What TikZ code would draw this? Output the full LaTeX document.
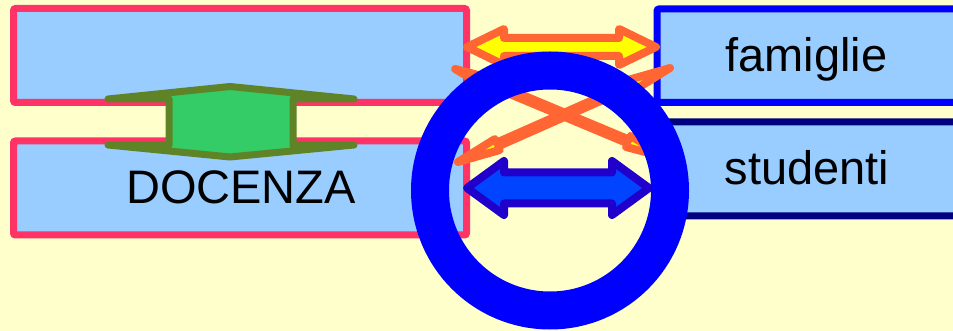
\documentclass[tikz,border=0pt]{standalone}
\usepackage{fontspec}
\setmainfont{Liberation Sans}
\definecolor{bgc}{HTML}{FFFFCC}
\definecolor{boxfill}{HTML}{99CCFF}
\definecolor{pinkc}{HTML}{FF3366}
\definecolor{bluec}{HTML}{0000FF}
\definecolor{navyc}{HTML}{000080}
\definecolor{orangec}{HTML}{FF6633}
\definecolor{yellowc}{HTML}{FFFF00}
\definecolor{arrblue}{HTML}{0044FF}
\definecolor{arrblueline}{HTML}{2200CC}
\definecolor{greenfill}{HTML}{33CC66}
\definecolor{greenline}{HTML}{5E8427}
\newcommand{\hdarrow}[4]{(-#1,0) -- (-#1+#2,#3) -- (-#1+#2,#4) -- (#1-#2,#4) -- (#1-#2,#3) -- (#1,0) -- (#1-#2,-#3) -- (#1-#2,-#4) -- (-#1+#2,-#4) -- (-#1+#2,-#3) -- cycle}
\tikzset{
  leftbox/.style={draw=pinkc, fill=boxfill, line width=7pt, rounded corners=2pt},
  rightbox/.style={fill=boxfill, line width=7pt, rounded corners=2pt},
  orangearrow/.style={draw=orangec, fill=yellowc, line width=8pt, line join=round},
  bluearrow/.style={draw=arrblueline, fill=arrblue, line width=8pt, line join=round},
  greenshape/.style={draw=greenline, fill=greenfill, line width=7pt, line join=round},
  ring/.style={draw=bluec, line width=38pt},
  lbl/.style={inner sep=0pt, anchor=base, font=\fontsize{47}{56}\selectfont}
}
\begin{document}
\begin{tikzpicture}[x=1pt, y=-1pt]
\useasboundingbox (0,0) rectangle (953,331);
\clip (0,0) rectangle (953,331);
\fill[bgc] (0,0) rectangle (953,331);
% left boxes
\draw[leftbox] (13.5,8.5) rectangle (466.5,102.5);
\draw[leftbox] (13.5,141) rectangle (466.5,235);
% right boxes
\draw[rightbox, draw=bluec] (657,9) rectangle (975,102.5);
\draw[rightbox, draw=navyc] (657,122) rectangle (975,216);
% green vertical double arrow
\draw[greenshape] (108,99) -- (230,86.5) -- (354,99) -- (293,99) -- (293,145) -- (354,145) -- (230,157) -- (108,145) -- (169,145) -- (169,99) -- cycle;
% texts
\node[lbl] (docenza) at (241,204) {DOCENZA};
\node[lbl] (famiglie) at (806.5,72) {famiglie};
\node[lbl] (studenti) at (807,185) {studenti};
% yellow double arrow
\draw[orangearrow, shift={(561.5,47)}] \hdarrow{94.5}{37}{18}{9};
% crossing arrows
\draw[orangearrow, shift={(561.5,113.5)}, rotate=-22.7] \hdarrow{115.4}{43}{6}{2};
\draw[orangearrow, shift={(564,115)}, rotate=23.9] \hdarrow{116}{43}{6}{2};
% blue double arrow
\draw[bluearrow, shift={(558,188)}] \hdarrow{91}{37}{27}{15.5};
% ring
\draw[ring] (550,190.5) circle[radius=120pt];
\end{tikzpicture}
\end{document}
